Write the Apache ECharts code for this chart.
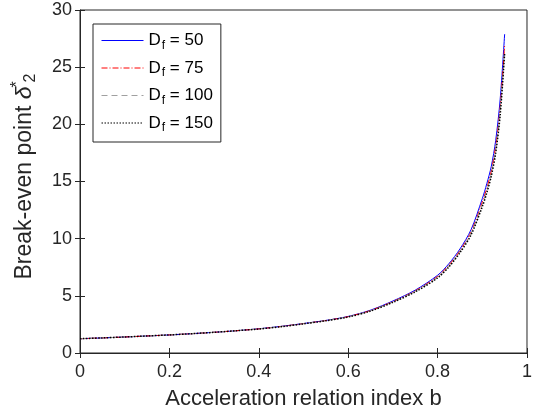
<!DOCTYPE html>
<html>
<head>
<meta charset="utf-8">
<script src="https://cdn.jsdelivr.net/npm/echarts@6/dist/echarts.min.js"></script>
<style>
    html, body {margin:0;padding:0;background:#fff;}
    #chart {width:535px;height:420px;}
</style>
</head>
<body>
<div id="chart"></div>
<script>
    // acceleration relation index b
    var bValues = [0, 0.05, 0.1, 0.15, 0.2, 0.25, 0.3, 0.35, 0.4, 0.45, 0.5, 0.55, 0.6, 0.65, 0.7, 0.75, 0.8, 0.825, 0.85, 0.875, 0.9, 0.91, 0.92, 0.93, 0.94, 0.95];
    // break-even point for each D_f
    var df50  = [1.25, 1.32, 1.40, 1.49, 1.58, 1.69, 1.81, 1.95, 2.12, 2.33, 2.58, 2.85, 3.20, 3.75, 4.55, 5.50, 6.80, 7.80, 9.10, 10.8, 13.5, 14.8, 16.3, 18.6, 22.2, 27.9];
    var df75  = [1.25, 1.32, 1.40, 1.49, 1.58, 1.69, 1.81, 1.95, 2.11, 2.32, 2.57, 2.84, 3.18, 3.72, 4.50, 5.44, 6.70, 7.68, 8.95, 10.6, 13.2, 14.4, 15.9, 18.1, 21.5, 26.9];
    var df100 = [1.25, 1.32, 1.40, 1.49, 1.58, 1.69, 1.81, 1.95, 2.11, 2.31, 2.56, 2.83, 3.17, 3.70, 4.47, 5.40, 6.64, 7.60, 8.87, 10.5, 13.0, 14.2, 15.7, 17.8, 21.2, 26.5];
    var df150 = [1.25, 1.32, 1.40, 1.49, 1.58, 1.69, 1.81, 1.95, 2.10, 2.30, 2.55, 2.82, 3.15, 3.67, 4.43, 5.35, 6.57, 7.52, 8.77, 10.35, 12.8, 14.0, 15.45, 17.5, 20.8, 26.2];
    var dfLabels = ['50', '75', '100', '150'];

    var axisColor = '#262626';
    var fontFamily = '"Liberation Sans", Arial, sans-serif';

    var pairs = function (ys) {
        return bValues.map(function (b, i) { return [b, ys[i]]; });
    };

    var lineSeries = function (label, ys, color, type, width) {
        return {
            name: label,
            type: 'line',
            xAxisIndex: 0,
            yAxisIndex: 0,
            data: pairs(ys),
            smooth: 0.3,
            symbol: 'none',
            animation: false,
            lineStyle: {color: color, width: width, type: type},
            itemStyle: {color: color}
        };
    };

    var chart = echarts.init(document.getElementById('chart'), null, {renderer: 'canvas'});

    var hiddenAxis = {
        axisLine: {show: false},
        axisLabel: {show: false},
        splitLine: {show: false},
        axisTick: {inside: true, length: 5, lineStyle: {color: axisColor}}
    };

    var option = {
        backgroundColor: '#fff',
        textStyle: {fontFamily: fontFamily},
        grid: {
            left: 80, right: 3, top: 10, bottom: 67,
            show: true, borderColor: axisColor, borderWidth: 1, backgroundColor: '#fff'
        },
        legend: {
            orient: 'vertical',
            left: 93, top: 24,
            width: 124,
            padding: [8, 8, 8, 8],
            itemWidth: 42,
            itemHeight: 14,
            itemGap: 8,
            borderColor: axisColor,
            borderWidth: 1,
            backgroundColor: '#fff',
            itemStyle: {opacity: 0},
            lineStyle: {width: 1},
            data: dfLabels,
            formatter: function (name) {
                return '{a|D}{s|f}{a| = ' + name + '}';
            },
            textStyle: {
                fontFamily: fontFamily,
                color: '#000',
                rich: {
                    a: {fontSize: 17, color: '#000', fontFamily: fontFamily},
                    s: {fontSize: 12, color: '#000', fontFamily: fontFamily, padding: [10, 0, 0, 1]}
                }
            }
        },
        xAxis: [{
            type: 'value',
            min: 0, max: 1, interval: 0.2,
            position: 'bottom',
            name: 'Acceleration relation index b',
            nameLocation: 'middle',
            nameGap: 35,
            nameTextStyle: {fontSize: 22, color: axisColor, fontFamily: fontFamily, verticalAlign: 'top'},
            axisLine: {onZero: false, lineStyle: {color: axisColor}},
            axisTick: {inside: true, length: 5, lineStyle: {color: axisColor}},
            axisLabel: {fontSize: 18, color: axisColor, margin: 10, fontFamily: fontFamily},
            splitLine: {show: false}
        }, Object.assign({
            type: 'value', min: 0, max: 1, interval: 0.2, position: 'top'
        }, hiddenAxis)],
        yAxis: [{
            type: 'value',
            min: 0, max: 30, interval: 5,
            position: 'left',
            name: '{a|Break-even point }{d|δ}{p|*}{s|2}',
            nameLocation: 'middle',
            nameGap: 40,
            nameRotate: 90,
            nameTextStyle: {
                color: axisColor,
                fontFamily: fontFamily,
                padding: [0, 0, 0, 10],
                rich: {
                    a: {fontSize: 23, color: axisColor, fontFamily: fontFamily},
                    d: {fontSize: 23, color: axisColor, fontFamily: fontFamily, fontStyle: 'italic'},
                    p: {fontSize: 16, color: axisColor, fontFamily: fontFamily, width: 0, padding: [0, 0, 14, 2]},
                    s: {fontSize: 16, color: axisColor, fontFamily: fontFamily, padding: [12, 0, 0, 2]}
                }
            },
            axisLine: {show: true, onZero: false, lineStyle: {color: axisColor}},
            axisTick: {show: true, inside: true, length: 5, lineStyle: {color: axisColor}},
            axisLabel: {fontSize: 18, color: axisColor, margin: 8, fontFamily: fontFamily},
            splitLine: {show: false}
        }, Object.assign({
            type: 'value', min: 0, max: 30, interval: 5, position: 'right'
        }, hiddenAxis)],
        series: [
            lineSeries(dfLabels[0], df50, '#0000ff', 'solid', 1),
            lineSeries(dfLabels[1], df75, '#ff0000', [6, 2, 1, 2], 1),
            lineSeries(dfLabels[2], df100, '#a0a0a0', [6, 4], 1),
            lineSeries(dfLabels[3], df150, '#000000', [1.5, 1.5], 1.5)
        ]
    };
    chart.setOption(option);
</script>
</body>
</html>
